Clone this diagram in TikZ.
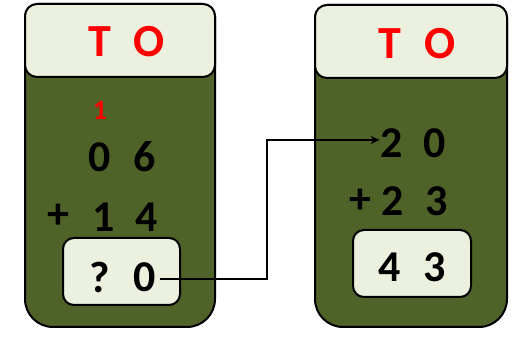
\documentclass[tikz,border=0pt]{standalone}
\usepackage{fontspec}
\setmainfont{Carlito}
\usetikzlibrary{arrows.meta}
\definecolor{olivepanel}{HTML}{4F6228}
\definecolor{palegreen}{HTML}{EBF1DE}
\definecolor{redtxt}{HTML}{FF0000}
\tikzset{
  panelbox/.style={draw=black, line width=2pt, fill=olivepanel},
  headbox/.style={draw=black, line width=2pt, fill=palegreen, rounded corners=12pt},
  ansbox/.style={draw=black, line width=2pt, fill=palegreen, rounded corners=11pt},
  hdr/.style={text=redtxt, font=\bfseries\fontsize{46}{46}\selectfont, inner sep=0pt},
  dig/.style={text=black, font=\bfseries\fontsize{44}{44}\selectfont, inner sep=0pt},
  carry/.style={text=redtxt, font=\bfseries\fontsize{28}{28}\selectfont, inner sep=0pt},
  conn/.style={draw=black, line width=1.5pt},
}
\begin{document}
\begin{tikzpicture}[x=1pt,y=-1pt]
\useasboundingbox (0,0) rectangle (528,339);
% left panel
\draw[panelbox] (25,150) {[rounded corners=13pt] -- (25,4) -- (215,4) -- (215,150)} {[rounded corners=28pt] -- (215,327) -- (25,327) -- (25,150)} -- cycle;
\node[headbox, minimum width=190pt, minimum height=73pt] (hL) at (120,40.5) {};
\node[hdr] (tL) at (100,42) {T};
\node[hdr] (oL) at (149,42) {O};
\node[carry] (c1) at (100,110) {1};
\node[dig] (a0) at (100,157) {0};
\node[dig] (a6) at (145,157) {6};
\node[dig] (pL) at (58,216) {+};
\node[dig] (b1) at (104,217) {1};
\node[dig] (b4) at (147,217) {4};
\node[ansbox, minimum width=117pt, minimum height=67pt] (boxL) at (121.5,271.5) {};
\node[dig] (q) at (100,277) {?};
\node[dig] (q0) at (145,277) {0};
% right panel
\draw[panelbox] (315,150) {[rounded corners=13pt] -- (315,5) -- (507,5) -- (507,150)} {[rounded corners=28pt] -- (507,327) -- (315,327) -- (315,150)} -- cycle;
\node[headbox, minimum width=192pt, minimum height=73pt] (hR) at (411,41.5) {};
\node[hdr] (tR) at (390,44) {T};
\node[hdr] (oR) at (440,44) {O};
\node[dig] (r2) at (392,143) {2};
\node[dig] (r0) at (435,143) {0};
\node[dig] (pR) at (360,201) {+};
\node[dig] (s2) at (393,201) {2};
\node[dig] (s3) at (437,201) {3};
\node[ansbox, minimum width=118pt, minimum height=67pt] (boxR) at (412,263.5) {};
\node[dig] (u4) at (390,267) {4};
\node[dig] (u3) at (435,267) {3};
% connector
\coordinate (bend) at (267,0);
\coordinate (st) at ([xshift=4pt,yshift=-2pt]q0.east);
\coordinate (tip) at ([xshift=-1pt,yshift=3pt]r2.west);
\draw[conn, -{Stealth[length=9pt,width=8pt]}] (st) -- (st -| bend) -- (bend |- tip) -- (tip);
\end{tikzpicture}
\end{document}
